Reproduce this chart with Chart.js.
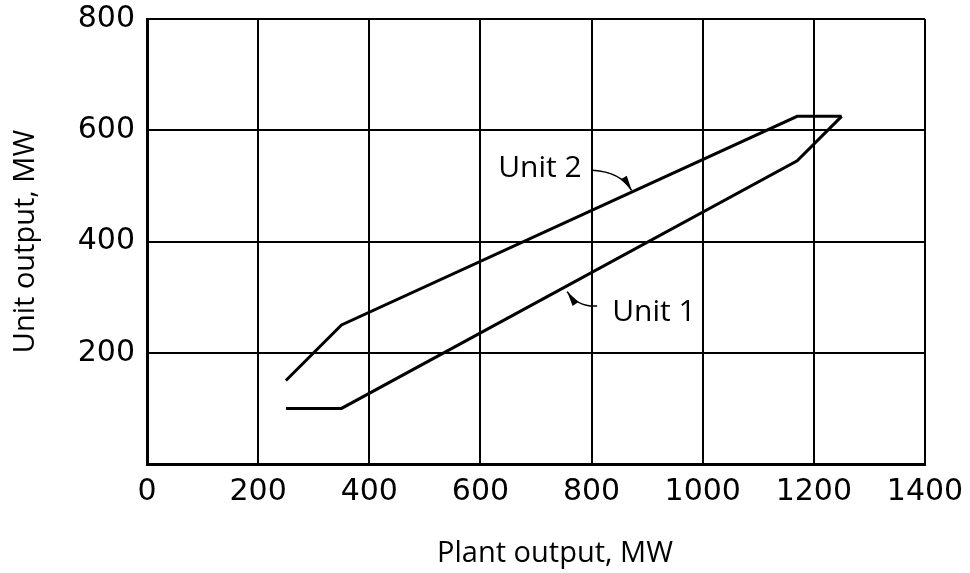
<!DOCTYPE html>
<html>
<head>
<meta charset="utf-8">
<script src="https://cdn.jsdelivr.net/npm/chart.js@4.4.1/dist/chart.umd.min.js"></script>
<style>
  html, body { margin: 0; padding: 0; background: #fff; }
  #wrap { width: 970px; height: 573px; position: relative; }
</style>
</head>
<body>
<div id="wrap"><canvas id="dispatchChart"></canvas></div>
<script>
// plant output (MW) at the break points of each curve
const plantOutput = [250, 350, 1170, 1250];
const unit1Output = [100, 100, 545, 625];
const unit2Output = [150, 250, 625, 625];

const xTicks = [0, 200, 400, 600, 800, 1000, 1200, 1400];
const yTicks = [0, 200, 400, 600, 800];

const FONT = "'Open Sans', 'DejaVu Sans', sans-serif";
const TICK_FONT = "'DejaVu Sans', sans-serif";

function toPoints(xs, ys) {
    return xs.map((x, i) => ({ x: x, y: ys[i] }));
}

// labels + curved arrows, and axis titles
const notes = {
    id: 'notes',
    afterDraw(chart) {
        const { ctx, scales, chartArea } = chart;
        const px = v => scales.x.getPixelForValue(v);
        const py = v => scales.y.getPixelForValue(v);
        ctx.save();
        ctx.fillStyle = '#000';
        ctx.strokeStyle = '#000';
        ctx.font = '30px ' + FONT;
        ctx.textBaseline = 'middle';
        ctx.textAlign = 'left';
        ctx.fillText('Unit 2', px(632), py(532));
        ctx.fillText('Unit 1', px(837), py(273));

        function arrow(x0, y0, cx, cy, x1, y1) {
            ctx.lineWidth = 1.5;
            ctx.beginPath();
            ctx.moveTo(x0, y0);
            ctx.quadraticCurveTo(cx, cy, x1, y1);
            ctx.stroke();
            const a = Math.atan2(y1 - cy, x1 - cx);
            const len = 15, w = 3.5;
            ctx.beginPath();
            ctx.moveTo(x1, y1);
            ctx.lineTo(x1 - len * Math.cos(a) + w * Math.sin(a), y1 - len * Math.sin(a) - w * Math.cos(a));
            ctx.lineTo(x1 - len * Math.cos(a) - w * Math.sin(a), y1 - len * Math.sin(a) + w * Math.cos(a));
            ctx.closePath();
            ctx.fill();
        }
        arrow(px(802), py(528), px(852), py(525), px(872), py(492));
        arrow(px(810), py(284), px(775), py(282), px(756), py(310));

        // axis titles
        ctx.textAlign = 'center';
        ctx.font = '29px ' + FONT;
        ctx.fillText('Plant output, MW', 555, 554);
        ctx.translate(26, (chartArea.top + chartArea.bottom) / 2);
        ctx.rotate(-Math.PI / 2);
        ctx.fillText('Unit output, MW', 0, 0);
        ctx.restore();
    }
};

const ctx = document.getElementById('dispatchChart').getContext('2d');
const dispatchChart = new Chart(ctx, {
    type: 'scatter',
    data: {
        datasets: [{
            label: 'Unit 1',
            data: toPoints(plantOutput, unit1Output),
            showLine: true,
            borderColor: '#000',
            borderWidth: 3,
            pointRadius: 0,
            tension: 0
        }, {
            label: 'Unit 2',
            data: toPoints(plantOutput, unit2Output),
            showLine: true,
            borderColor: '#000',
            borderWidth: 3,
            pointRadius: 0,
            tension: 0
        }]
    },
    options: {
        responsive: true,
        maintainAspectRatio: false,
        animation: false,
        layout: { padding: { left: 0, right: 45, top: 19, bottom: 0 } },
        scales: {
            x: {
                type: 'linear',
                min: xTicks[0],
                max: xTicks[xTicks.length - 1],
                afterBuildTicks: scale => { scale.ticks = xTicks.map(v => ({ value: v })); },
                afterFit: scale => {
                    scale.height = 109;
                    scale.paddingLeft = 0;
                    scale.paddingRight = 0;
                },
                grid: { color: '#000', lineWidth: 2, drawTicks: false },
                border: { color: '#000', width: 3 },
                ticks: {
                    color: '#000',
                    padding: 10,
                    font: { family: TICK_FONT, size: 30, lineHeight: 1.2 },
                    callback: v => String(v)
                }
            },
            y: {
                type: 'linear',
                min: yTicks[0],
                max: yTicks[yTicks.length - 1],
                afterBuildTicks: scale => { scale.ticks = yTicks.map(v => ({ value: v })); },
                afterFit: scale => {
                    scale.width = 147;
                    scale.paddingTop = 0;
                    scale.paddingBottom = 0;
                },
                grid: { color: '#000', lineWidth: 2, drawTicks: false },
                border: { color: '#000', width: 3 },
                ticks: {
                    color: '#000',
                    padding: 12,
                    font: { family: TICK_FONT, size: 30, lineHeight: 1.2 },
                    callback: v => (v === 0 ? '' : String(v))
                }
            }
        },
        plugins: {
            legend: { display: false },
            tooltip: { enabled: false }
        }
    },
    plugins: [notes]
});
</script>
</body>
</html>
